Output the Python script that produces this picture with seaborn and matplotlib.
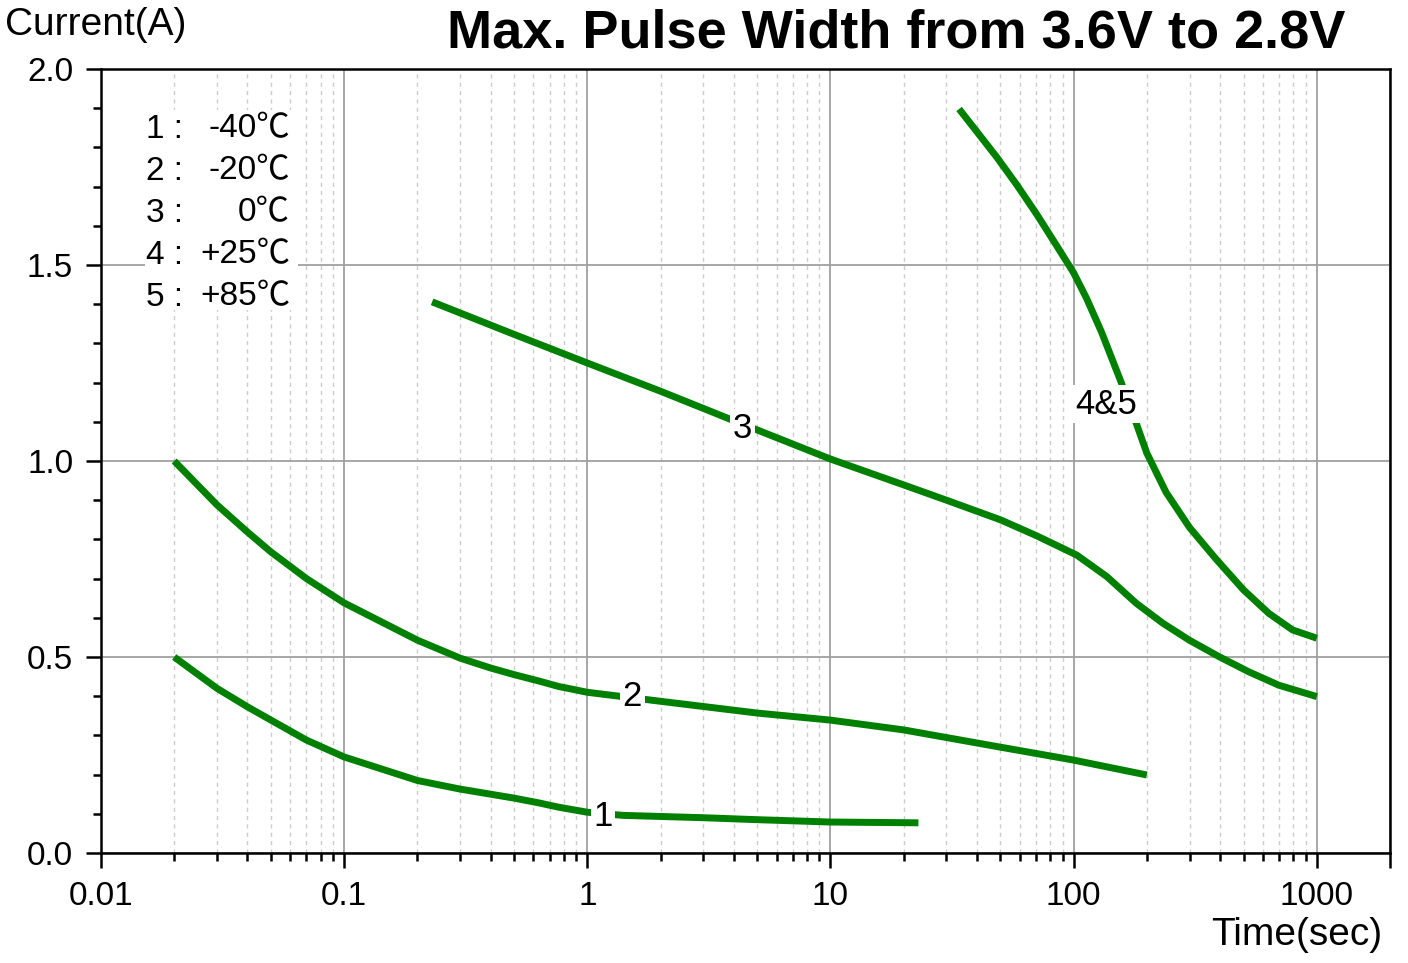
import numpy as np
import pandas as pd
import seaborn as sns
import matplotlib
matplotlib.use("Agg")
import matplotlib.pyplot as plt
from matplotlib.ticker import FixedLocator, FixedFormatter, MultipleLocator
from matplotlib.patches import Rectangle

# ---- data (time in sec, current in A) ----
t1 = [0.02, 0.03, 0.04, 0.05, 0.07, 0.1, 0.2, 0.3, 0.5, 0.63, 0.76, 1.0, 1.4, 3.0, 5.0, 10, 23]
i1 = [0.50, 0.42, 0.373, 0.339, 0.288, 0.245, 0.185, 0.163, 0.14, 0.128, 0.117, 0.104, 0.096, 0.09, 0.085, 0.079, 0.077]

t2 = [0.02, 0.03, 0.04, 0.05, 0.07, 0.1, 0.2, 0.3, 0.4, 0.5, 0.63, 0.76, 1.0, 2.0, 5.0, 10, 20, 50, 100, 200]
i2 = [1.0, 0.888, 0.819, 0.768, 0.70, 0.638, 0.543, 0.497, 0.472, 0.455, 0.439, 0.425, 0.41, 0.387, 0.357, 0.339, 0.314, 0.27, 0.237, 0.199]

t3 = [0.23, 0.5, 1, 2, 4, 10, 20, 30, 50, 70, 103, 137, 181, 233, 299, 396, 526, 698, 1000]
i3 = [1.406, 1.323, 1.25, 1.178, 1.103, 1.005, 0.939, 0.90, 0.85, 0.81, 0.760, 0.705, 0.637, 0.586, 0.543, 0.501, 0.462, 0.428, 0.399]

t45 = [33.8, 40, 48.3, 58.3, 70.4, 85, 100, 113, 130, 157, 180, 200, 240, 300, 385, 500, 636, 795, 1000]
i45 = [1.898, 1.84, 1.775, 1.705, 1.63, 1.55, 1.48, 1.415, 1.33, 1.20, 1.10, 1.02, 0.92, 0.83, 0.75, 0.671, 0.611, 0.569, 0.548]

curve_labels = ["1", "2", "3", "4&5"]
label_t = [1.16, 1.53, 4.35, 136]
label_i = [0.094, 0.398, 1.084, 1.145]

legend_nums = ["1 :", "2 :", "3 :", "4 :", "5 :"]
legend_temps = ["-40℃", "-20℃", "0℃", "+25℃", "+85℃"]

xtick_vals = [0.01, 0.1, 1, 10, 100, 1000, 2000]
xtick_text = ["0.01", "0.1", "1", "10", "100", "1000", ""]

GREEN = "#008000"

sns.set_theme(style="white")
plt.rcParams['font.family'] = ['Liberation Sans', 'Noto Sans CJK SC', 'DejaVu Sans']
plt.rcParams['text.color'] = 'black'
plt.rcParams['xtick.color'] = 'black'
plt.rcParams['ytick.color'] = 'black'

W, H = 1408, 963
fig, ax = plt.subplots(figsize=(W / 100, H / 100), dpi=100)
fig.subplots_adjust(left=101 / W, right=1390 / W, bottom=1 - 853 / H, top=1 - 69 / H)
ax.set_xscale("log")
ax.set_axisbelow(True)

for t, i in [(t1, i1), (t2, i2), (t3, i3), (t45, i45)]:
    sns.lineplot(x=t, y=i, ax=ax, color=GREEN, linewidth=5, estimator=None)
for line in ax.get_lines():
    line.set_solid_capstyle("butt")
    line.set_solid_joinstyle("round")

ax.set_xlim(0.01, 2000)
ax.set_ylim(0, 2.0)
ax.set_xlabel("")
ax.set_ylabel("")

ax.xaxis.set_major_locator(FixedLocator(xtick_vals))
ax.xaxis.set_major_formatter(FixedFormatter(xtick_text))
minors = [k * 10.0 ** e for e in range(-2, 3) for k in range(2, 10)]
ax.xaxis.set_minor_locator(FixedLocator(minors))
ax.yaxis.set_major_locator(MultipleLocator(0.5))
ax.yaxis.set_minor_locator(MultipleLocator(0.1))
ax.yaxis.set_major_formatter(matplotlib.ticker.FormatStrFormatter("%.1f"))

ax.grid(which="major", axis="both", color="#a0a0a0", linewidth=1.3, linestyle="-")
ax.grid(which="minor", axis="x", color="#cccccc", linewidth=1.0, linestyle=(0, (3, 3)))

for s in ax.spines.values():
    s.set_color("black")
    s.set_linewidth(1.8)
ax.tick_params(which="both", bottom=True, left=True, top=False, right=False,
               direction="out", color="black", width=1.8)
ax.tick_params(which="major", length=11, labelsize=24, pad=9, labelcolor="black")
ax.tick_params(which="minor", length=6)

# inline curve labels
for s, x, y in zip(curve_labels, label_t, label_i):
    ax.text(x, y, s, fontsize=25, ha="center", va="center", color="black", zorder=5,
            bbox=dict(facecolor="white", edgecolor="none", pad=2))

# temperature key, white box over the grid
def axfrac(px, py):
    return (px - 101) / 1289, (853 - py) / 784

x0, y0 = axfrac(145, 310)
x1, y1 = axfrac(298, 110)
ax.add_patch(Rectangle((x0, y0), x1 - x0, y1 - y0, transform=ax.transAxes,
                       facecolor="white", edgecolor="none", zorder=1))
for k, (n, tmp) in enumerate(zip(legend_nums, legend_temps)):
    py = 129 + 42 * k
    xa, ya = axfrac(146, py)
    xb, _ = axfrac(290, py)
    ax.text(xa, ya, n, transform=ax.transAxes, fontsize=24, ha="left", va="center", zorder=5)
    ax.text(xb, ya, tmp, transform=ax.transAxes, fontsize=24, ha="right", va="center", zorder=5)

fig.text(896 / W, 1 - 33 / H, "Max. Pulse Width from 3.6V to 2.8V",
         fontsize=39, fontweight="bold", ha="center", va="center")
fig.text(5 / W, 1 - 25 / H, "Current(A)", fontsize=28, ha="left", va="center")
fig.text(1382 / W, 1 - 935 / H, "Time(sec)", fontsize=28, ha="right", va="center")

fig.savefig("out.png", dpi=100)
